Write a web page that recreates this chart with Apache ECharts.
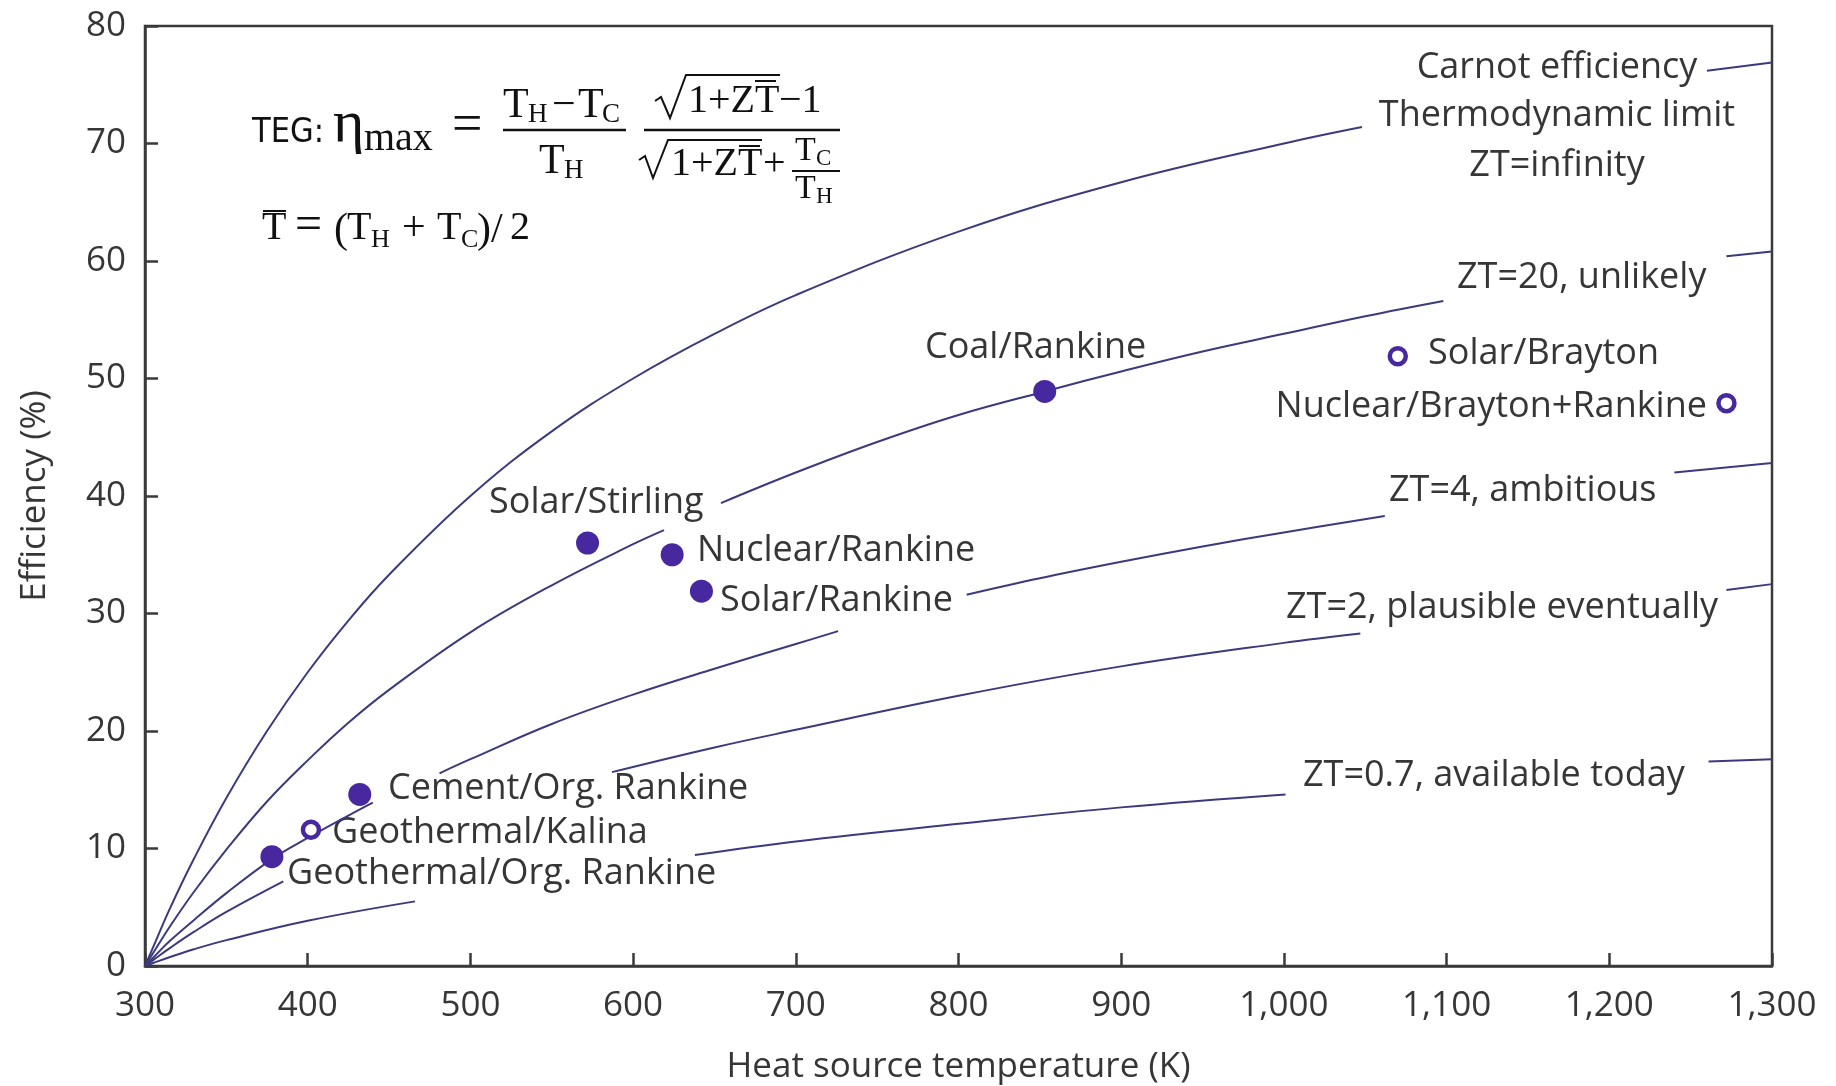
<!DOCTYPE html>
<html>
<head>
<meta charset="utf-8">
<title>TEG efficiency vs heat source temperature</title>
<script src="https://cdn.jsdelivr.net/npm/echarts@6/dist/echarts.min.js"></script>
<style>
  html, body { margin: 0; padding: 0; background: #fff; }
  #main { width: 1836px; height: 1086px; }
</style>
</head>
<body>
<div id="main"></div>
<script>
// values: heat source temperature (K) -> efficiency (%)
// null marks a break in the curve where a label sits
const carnotT   = [300, 305, 315, 330, 350, 375, 400, 425, 450, 500, 550, 600, 650, 700, 800, 900, 1000, 1048, 1150, 1260, 1300];
const carnotEff = [0, 1.6, 4.8, 9.1, 14.3, 20.0, 25.0, 29.4, 33.3, 40.0, 45.5, 50.0, 53.8, 57.1, 62.5, 66.7, 70.0, 71.4, null, 76.2, 76.9];

const zt20T   = [300, 305, 315, 330, 350, 375, 400, 425, 450, 500, 550, 600, 619, 635, 654, 700, 750, 800, 853, 900, 950, 1000, 1050, 1098, 1180, 1272, 1300];
const zt20Eff = [0, 1.1, 3.3, 6.3, 9.9, 14.0, 17.5, 20.7, 23.5, 28.4, 32.4, 35.9, 37.1, null, 39.4, 42.0, 44.6, 46.9, 48.9, 50.6, 52.3, 53.8, 55.3, 56.6, null, 60.4, 60.8];

const zt4T   = [300, 305, 315, 330, 350, 378, 400, 425, 440, 460, 481, 500, 550, 600, 650, 700, 726, 765, 805, 850, 900, 950, 1000, 1062, 1150, 1240, 1300];
const zt4Eff = [0, 0.7, 2.1, 3.9, 6.2, 9.1, 10.9, 12.8, 13.9, null, 16.4, 17.6, 20.6, 23.1, 25.3, 27.4, 28.5, null, 31.6, 33.0, 34.4, 35.7, 36.9, 38.3, null, 42.0, 42.8];

const zt2T   = [300, 305, 315, 330, 350, 385, 480, 587, 650, 700, 800, 900, 1000, 1047, 1160, 1272, 1300];
const zt2Eff = [0, 0.5, 1.5, 2.9, 4.6, 7.2, null, 16.5, 18.6, 20.1, 23.0, 25.5, 27.5, 28.3, null, 32.0, 32.5];

const zt07T   = [300, 305, 315, 330, 350, 400, 466, 550, 638, 700, 800, 900, 1001, 1130, 1261, 1300];
const zt07Eff = [0, 0.25, 0.74, 1.42, 2.2, 3.85, 5.5, null, 9.45, 10.6, 12.1, 13.5, 14.6, null, 17.4, 17.6];

// power plants
const filledNames = ['Geothermal/Org. Rankine', 'Cement/Org. Rankine', 'Solar/Stirling', 'Nuclear/Rankine', 'Solar/Rankine', 'Coal/Rankine'];
const filledT     = [378, 432, 572, 624, 642, 853];
const filledEff   = [9.3, 14.6, 36.0, 35.0, 31.9, 48.9];
const openNames = ['Geothermal/Kalina', 'Solar/Brayton', 'Nuclear/Brayton+Rankine'];
const openT     = [402, 1070, 1272];
const openEff   = [11.6, 51.9, 47.9];

const xTicks = [300, 400, 500, 600, 700, 800, 900, 1000, 1100, 1200, 1300];
const yTicks = [0, 10, 20, 30, 40, 50, 60, 70, 80];

const LINE = '#3c3a7e';
const DOT = '#48289e';
const INK = '#363636';
const SANS = '"Open Sans", "Noto Sans", sans-serif';
const SERIF = '"Liberation Serif", "DejaVu Serif", serif';
const NARROW = '"Liberation Sans Narrow", "DejaVu Sans Condensed", "Open Sans", sans-serif';

function pairs(ts, vs) {
    return ts.map((t, i) => [t, vs[i] == null ? '-' : vs[i]]);
}

function curve(name, ts, vs) {
    return {
        name: name, type: 'line', data: pairs(ts, vs),
        showSymbol: false, smooth: 0.4, connectNulls: false,
        lineStyle: { color: LINE, width: 2 }, z: 2, silent: true
    };
}

// text placed by its baseline; mid = offset of canvas "middle" above baseline
function txt(s, x, base, size, family, mid, align, fill) {
    return {
        type: 'text', x: x, y: base - mid * size, silent: true,
        style: {
            text: s, font: size + 'px ' + family, fill: fill || INK,
            align: align || 'left', verticalAlign: 'middle',
            textAlign: align || 'left', textVerticalAlign: 'middle'
        }
    };
}
function label(s, x, base, align) { return txt(s, x, base, 36, SANS, 0.388, align); }
function math(s, x, base, size) { return txt(s, x, base, size, SERIF, 0.3375, 'left', '#111'); }
function seg(x1, y1, x2, y2, w) {
    return { type: 'line', silent: true, shape: { x1: x1, y1: y1, x2: x2, y2: y2 }, style: { stroke: '#111', lineWidth: w || 2 } };
}
function poly(pts) {
    return { type: 'polyline', silent: true, shape: { points: pts }, style: { stroke: '#111', lineWidth: 2, fill: null } };
}

const labels = [
    label('Carnot efficiency', 1557, 82, 'center'),
    label('Thermodynamic limit', 1557, 130, 'center'),
    label('ZT=infinity', 1557, 180, 'center'),
    label('ZT=20, unlikely', 1457, 292),
    label('Solar/Brayton', 1428, 368),
    label('Nuclear/Brayton+Rankine', 1707, 421, 'right'),
    label('ZT=4, ambitious', 1389, 505),
    label('ZT=2, plausible eventually', 1286, 622),
    label('ZT=0.7, available today', 1303, 790),
    label('Coal/Rankine', 925, 362),
    label('Solar/Stirling', 489, 517),
    label('Nuclear/Rankine', 697, 565),
    label('Solar/Rankine', 720, 615),
    label('Cement/Org. Rankine', 388, 803),
    label('Geothermal/Kalina', 332, 847),
    label('Geothermal/Org. Rankine', 287, 888)
];

// TEG formula box
const formula = [
    txt('TEG:', 252, 145, 34, NARROW, 0.3465, 'left', '#111'),
    math('η', 333, 145, 60),
    math('max', 364, 153, 40),
    math('=', 452, 145, 54),
    seg(503, 130, 626, 130, 2.5),
    math('T', 503, 120, 42), math('H', 528, 124, 27), math('−', 552, 120, 42),
    math('T', 578, 120, 42), math('C', 602, 124, 27),
    math('T', 539, 176, 42), math('H', 564, 180, 27),
    seg(644, 130, 840, 130, 2.5),
    poly([[655, 101], [661, 97], [670, 118], [686, 75], [780, 75]]),
    math('1+ZT', 688, 115, 40), math('−1', 779, 115, 40), seg(755, 81, 776, 81),
    poly([[639, 160], [645, 156], [653, 178], [668, 140], [762, 140]]),
    math('1+ZT', 671, 178, 40), seg(739, 146, 760, 146), math('+', 763, 178, 40),
    seg(792, 171, 840, 171),
    math('T', 795, 163, 34), math('C', 816, 167, 23),
    math('T', 795, 201, 34), math('H', 816, 205, 23),
    math('T', 262, 242, 40), seg(263, 211, 286, 211),
    math('=', 295, 243, 48), math('(', 334, 245, 42), math('T', 347, 242, 40), math('H', 371, 249, 26),
    math('+', 402, 243, 42), math('T', 437, 242, 40), math('C', 461, 249, 26),
    math(')', 477, 245, 42), math('/', 491, 245, 42), math('2', 510, 242, 40)
];

const chart = echarts.init(document.getElementById('main'));
chart.setOption({
    backgroundColor: '#fff',
    animation: false,
    grid: {
        left: 145, right: 64, top: 26, bottom: 120, containLabel: false, outerBoundsMode: 'none',
        show: true, borderColor: '#3a3a3a', borderWidth: 2.5
    },
    xAxis: {
        type: 'value', min: xTicks[0], max: xTicks[xTicks.length - 1], interval: 100,
        name: 'Heat source temperature (K)', nameLocation: 'middle', nameGap: 84,
        nameTextStyle: { fontFamily: SANS, fontSize: 35, color: INK },
        axisLine: { lineStyle: { color: '#3a3a3a', width: 2.5 } },
        axisTick: { inside: true, length: 13, lineStyle: { color: '#3a3a3a', width: 2.5 } },
        axisLabel: {
            fontFamily: SANS, fontSize: 35, color: INK, margin: 23,
            formatter: v => v.toLocaleString('en-US')
        },
        splitLine: { show: false }
    },
    yAxis: {
        type: 'value', min: yTicks[0], max: yTicks[yTicks.length - 1], interval: 10,
        name: 'Efficiency (%)', nameLocation: 'middle', nameGap: 92,
        nameTextStyle: { fontFamily: SANS, fontSize: 35, color: INK },
        axisLine: { lineStyle: { color: '#3a3a3a', width: 2.5 } },
        axisTick: { inside: true, length: 13, lineStyle: { color: '#3a3a3a', width: 2.5 } },
        axisLabel: { fontFamily: SANS, fontSize: 35, color: INK, margin: 19 },
        splitLine: { show: false }
    },
    series: [
        curve('Carnot', carnotT, carnotEff),
        curve('ZT=20', zt20T, zt20Eff),
        curve('ZT=4', zt4T, zt4Eff),
        curve('ZT=2', zt2T, zt2Eff),
        curve('ZT=0.7', zt07T, zt07Eff),
        {
            name: 'plants', type: 'scatter', z: 5, symbol: 'circle', symbolSize: 23,
            itemStyle: { color: DOT, opacity: 1 },
            data: filledT.map((t, i) => ({ name: filledNames[i], value: [t, filledEff[i]] }))
        },
        {
            name: 'proposed', type: 'scatter', z: 5, symbol: 'circle', symbolSize: 16,
            itemStyle: { color: '#fff', borderColor: DOT, borderWidth: 4.5, opacity: 1 },
            data: openT.map((t, i) => ({ name: openNames[i], value: [t, openEff[i]] }))
        }
    ],
    graphic: labels.concat(formula)
});
</script>
</body>
</html>
